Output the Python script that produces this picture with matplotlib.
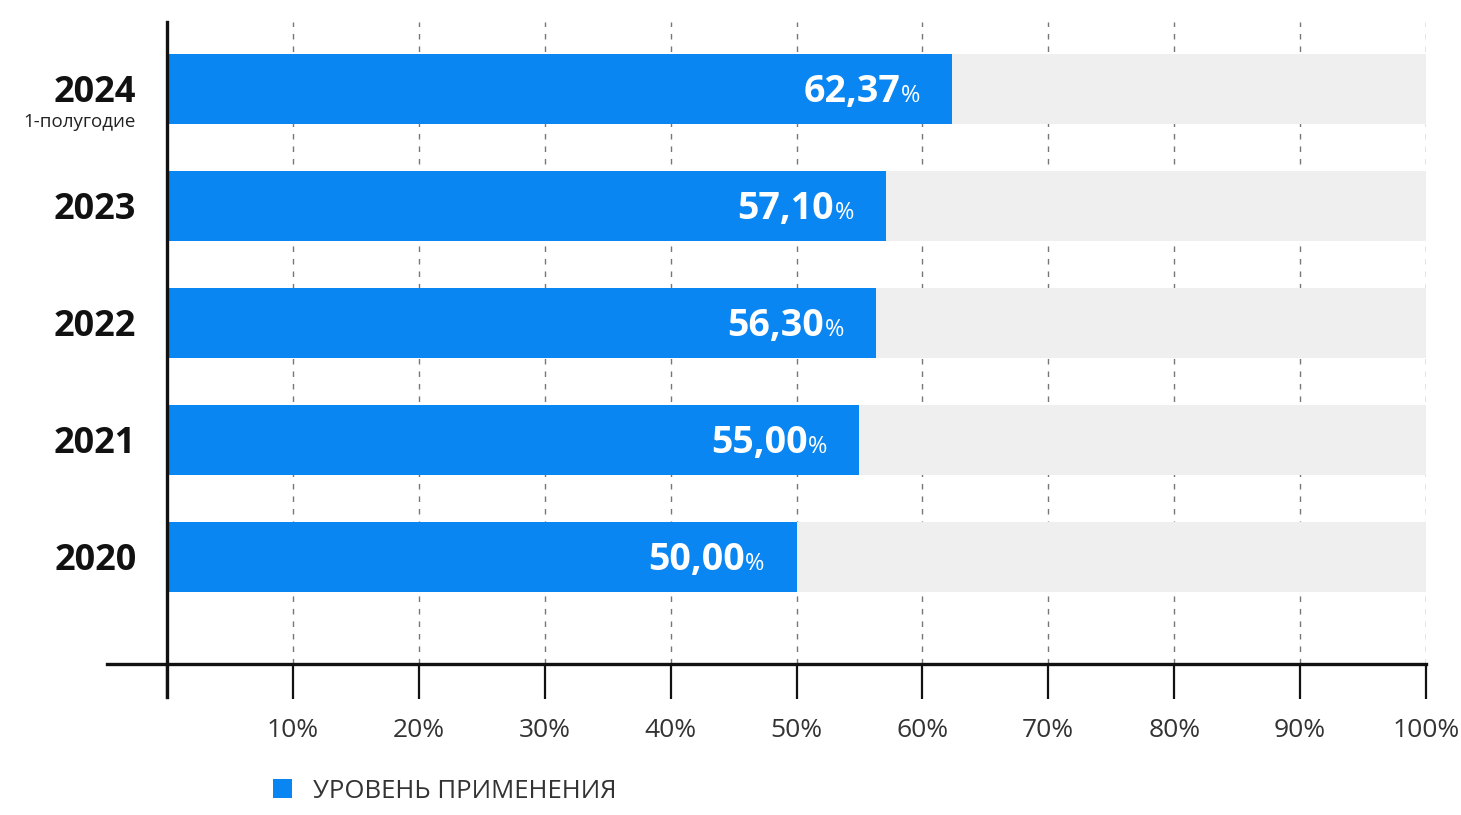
import matplotlib.pyplot as plt
from matplotlib.lines import Line2D

YEARS = ["2020", "2021", "2022", "2023", "2024"]
VALUES = [50.00, 55.00, 56.30, 57.10, 62.37]
XTICKS = [0, 10, 20, 30, 40, 50, 60, 70, 80, 90, 100]
XTICK_LABELS = ["", "10%", "20%", "30%", "40%", "50%", "60%", "70%", "80%", "90%", "100%"]
SUBTITLE = "1-полугодие"
LEGEND_LABEL = "УРОВЕНЬ ПРИМЕНЕНИЯ"

BLUE = "#0a86f2"
GREY_BG = "#efefef"

plt.rcParams['font.family'] = ['Open Sans', 'DejaVu Sans']

fig = plt.figure(figsize=(14.61, 8.15), dpi=100, facecolor='white')
ax = fig.add_axes([167 / 1461, 1 - 664 / 815, 1259 / 1461, 642 / 815])

pos = list(range(len(YEARS)))
ax.barh(pos, [100] * len(pos), height=0.6, color=GREY_BG, zorder=1)
bars = ax.barh(pos, VALUES, height=0.6, color=BLUE, zorder=2, label=LEGEND_LABEL)

ax.set_xlim(0, 100)
ax.set_ylim(-0.915, 4.57)

# grid
ax.set_axisbelow(True)
ax.grid(axis='x', linestyle=(0, (4, 5)), color='#777777', linewidth=1)
ax.grid(axis='y', visible=False)

# value labels: bold number + smaller percent sign
for y, v in zip(pos, VALUES):
    num = f"{v:.2f}".replace(".", ",")
    ax.annotate("%", xy=(v, y), xytext=(-32, -13), textcoords='offset pixels',
                ha='right', va='baseline', color='white', fontsize=17, zorder=3)
    ax.annotate(num, xy=(v, y), xytext=(-52, -13), textcoords='offset pixels',
                ha='right', va='baseline', color='white', fontsize=27,
                fontweight='bold', zorder=3)

# y labels
ax.set_yticks(pos)
ax.set_yticklabels(YEARS, fontsize=26, fontweight='bold', color='#111111')
ax.tick_params(axis='y', length=0, pad=22)
for t in ax.get_yticklabels():
    t.set_y(t.get_position()[1])
ax.annotate(SUBTITLE, xy=(0, 4), xycoords=('axes fraction', 'data'),
            xytext=(-31, -33), textcoords='offset pixels',
            ha='right', va='center', fontsize=13.5, color='#222222')

# x ticks
ax.set_xticks(XTICKS)
ax.set_xticklabels(XTICK_LABELS, fontsize=19, color='#333333')
ax.tick_params(axis='x', direction='out', length=25, width=1.6, color='#111111', pad=14)

for s in ax.spines.values():
    s.set_visible(False)

# axis lines extending past the corner
ax.add_line(Line2D([-60 / 1259, 1], [0, 0], transform=ax.transAxes,
                   color='#111111', linewidth=2.4, clip_on=False, zorder=5))
ax.add_line(Line2D([0, 0], [-33 / 642, 1], transform=ax.transAxes,
                   color='#111111', linewidth=2.4, clip_on=False, zorder=5))

leg = fig.legend(handles=[bars], labels=[LEGEND_LABEL], loc='center left',
                 bbox_to_anchor=(250 / 1461, 1 - 791 / 815), frameon=False,
                 handlelength=0.75, handleheight=0.75, handletextpad=0.8,
                 fontsize=18.5)
for t in leg.get_texts():
    t.set_color('#333333')

plt.savefig("out.png", dpi=100, facecolor='white')
